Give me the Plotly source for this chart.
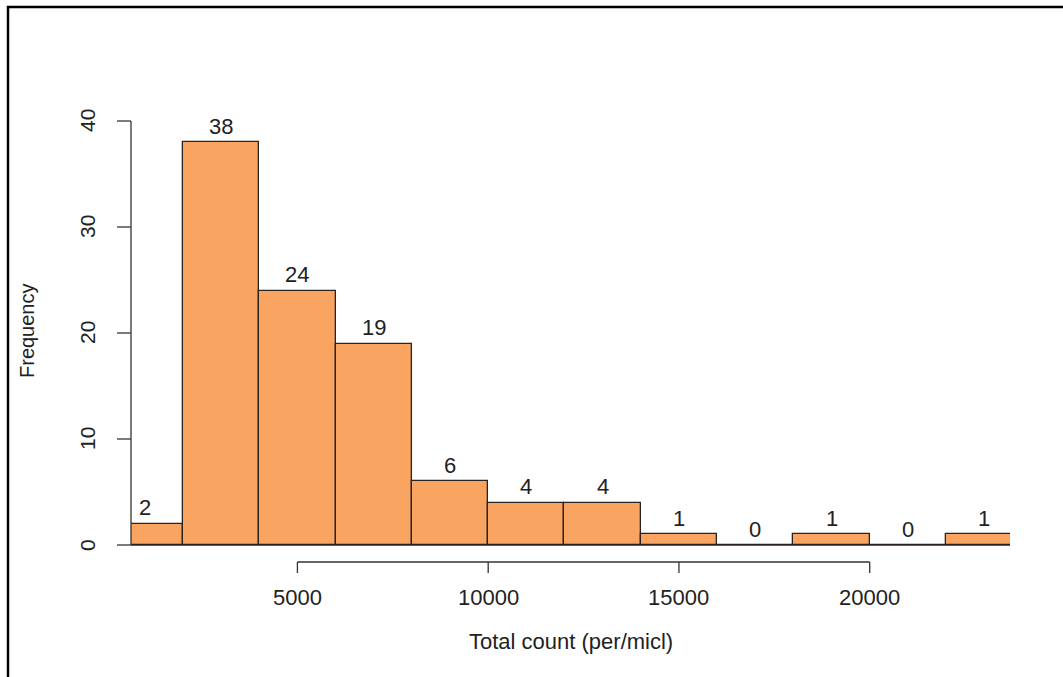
import plotly.graph_objects as go

# Histogram of total count (per/micl): bin edges every 2000, counts per bin
bin_edges = [0, 2000, 4000, 6000, 8000, 10000, 12000, 14000, 16000, 18000, 20000, 22000, 24000]
counts = [2, 38, 24, 19, 6, 4, 4, 1, 0, 1, 0, 1]
x_ticks = [5000, 10000, 15000, 20000]
y_ticks = [0, 10, 20, 30, 40]
x_title = "Total count (per/micl)"
y_title = "Frequency"

W, H = 1063, 677
# plot region geometry (pixels)
plot_left, plot_right = 131, 1010
y0_px, y40_px = 545, 121
x_limits = [638, 23677]

px_per_unit = (y0_px - y40_px) / 40.0
y_max = 40 + y40_px / px_per_unit
y_min = -(H - y0_px) / px_per_unit


def py(px):
    """pixel row -> paper y"""
    return 1 - px / H


def pxp(px):
    """pixel column -> paper x"""
    return px / W


centers = [(a + b) / 2 for a, b in zip(bin_edges[:-1], bin_edges[1:])]
widths = [b - a for a, b in zip(bin_edges[:-1], bin_edges[1:])]

FILL = "#F9A561"
EDGE = "#2b2320"
INK = "#222222"
FONT = "Liberation Sans, Arial, sans-serif"
FS = 22      # horizontal text
FS_V = 20    # rotated text

fig = go.Figure()
fig.add_trace(go.Bar(
    x=centers, y=counts, width=widths,
    marker=dict(color=FILL, line=dict(color=EDGE, width=1.3)),
    hoverinfo="skip", showlegend=False,
))

shapes = []
annotations = []

# baseline under the bars
shapes.append(dict(type="line", xref="paper", yref="y",
                   x0=pxp(plot_left), x1=pxp(plot_right), y0=0, y1=0,
                   line=dict(color=EDGE, width=1.3)))

# count labels above each bin
for c, n in zip(centers, counts):
    annotations.append(dict(x=c, y=n, xref="x", yref="y", text=str(n),
                            showarrow=False, yanchor="middle", yshift=16,
                            font=dict(family=FONT, size=FS, color=INK)))

# y axis (R style, left of plot)
shapes.append(dict(type="line", xref="paper", yref="y",
                   x0=pxp(plot_left), x1=pxp(plot_left), y0=y_ticks[0], y1=y_ticks[-1],
                   line=dict(color="#333333", width=1.3)))
for t in y_ticks:
    shapes.append(dict(type="line", xref="paper", yref="y",
                       x0=pxp(117), x1=pxp(plot_left), y0=t, y1=t,
                       line=dict(color="#333333", width=1.3)))
    annotations.append(dict(x=pxp(87), y=t, xref="paper", yref="y", text=str(t),
                            showarrow=False, textangle=-90,
                            xanchor="center", yanchor="middle",
                            font=dict(family=FONT, size=FS_V + 1, color=INK)))

# x axis (R style, below plot)
shapes.append(dict(type="line", xref="x", yref="paper",
                   x0=x_ticks[0], x1=x_ticks[-1], y0=py(562), y1=py(562),
                   line=dict(color="#333333", width=1.3)))
for t in x_ticks:
    shapes.append(dict(type="line", xref="x", yref="paper",
                       x0=t, x1=t, y0=py(562), y1=py(573),
                       line=dict(color="#333333", width=1.3)))
    annotations.append(dict(x=t, y=py(597), xref="x", yref="paper", text=str(t),
                            showarrow=False, xanchor="center", yanchor="middle",
                            font=dict(family=FONT, size=FS, color=INK)))

# axis titles
annotations.append(dict(x=pxp(571), y=py(641), xref="paper", yref="paper", text=x_title,
                        showarrow=False, xanchor="center", yanchor="middle",
                        font=dict(family=FONT, size=FS, color=INK)))
annotations.append(dict(x=pxp(27), y=py(331), xref="paper", yref="paper", text=y_title,
                        showarrow=False, textangle=-90, xanchor="center", yanchor="middle",
                        font=dict(family=FONT, size=FS_V, color=INK)))

# outer frame (left and top edges)
shapes.append(dict(type="path", xref="paper", yref="paper",
                   path=f"M {pxp(8)} 0 L {pxp(8)} {py(7)} L 1 {py(7)}",
                   line=dict(color="black", width=2.5)))

fig.update_layout(
    width=W, height=H,
    margin=dict(l=0, r=0, t=0, b=0),
    paper_bgcolor="white", plot_bgcolor="white",
    xaxis=dict(domain=[pxp(plot_left), pxp(plot_right)], range=x_limits,
               visible=False, showgrid=False, zeroline=False),
    yaxis=dict(domain=[0, 1], range=[y_min, y_max],
               visible=False, showgrid=False, zeroline=False),
    bargap=0,
    shapes=shapes,
    annotations=annotations,
)

fig.write_html("out.html")
